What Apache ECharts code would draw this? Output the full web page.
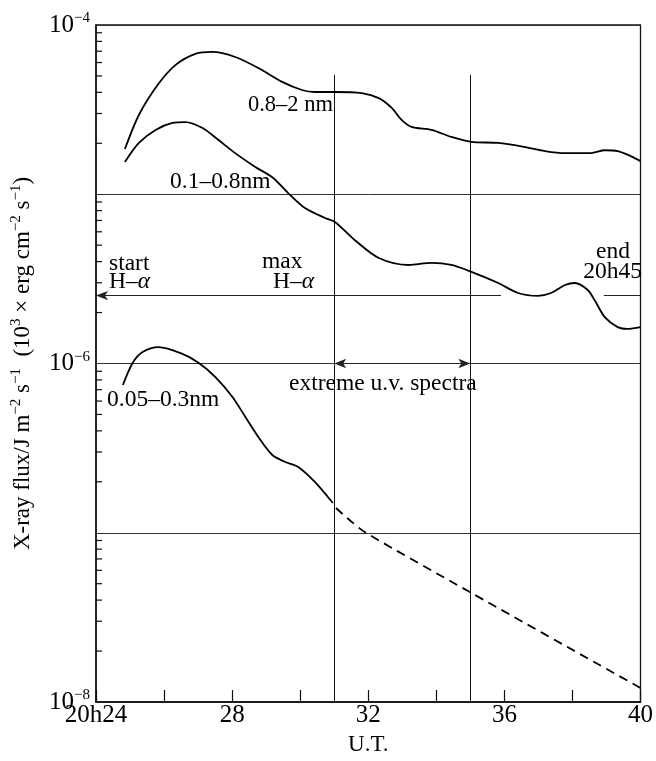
<!DOCTYPE html>
<html>
<head>
<meta charset="utf-8">
<script src="https://cdn.jsdelivr.net/npm/echarts@6/dist/echarts.min.js"></script>
<style>
html,body{margin:0;padding:0;background:#fff;}
#chart{width:656px;height:761px;}
</style>
</head>
<body>
<div id="chart"></div>
<script>
// ---- data (minutes after 20h, flux J m^-2 s^-1) ----
const band08to2 = [
  [24.85,1.85e-5],[25.26,2.94e-5],[25.81,4.42e-5],[26.34,5.81e-5],[26.92,6.75e-5],
  [27.42,6.93e-5],[28.09,6.47e-5],[28.77,5.57e-5],[29.47,4.61e-5],[30.05,4.13e-5],
  [30.43,4.02e-5],[31.02,4.02e-5],[31.81,3.96e-5],[32.31,3.70e-5],[32.69,3.24e-5],
  [32.98,2.75e-5],[33.27,2.50e-5],[33.86,2.40e-5],[34.44,2.18e-5],[35.03,2.04e-5],
  [35.82,2.01e-5],[36.61,1.90e-5],[37.19,1.80e-5],[37.78,1.75e-5],[38.54,1.75e-5],
  [38.95,1.82e-5],[39.33,1.80e-5],[39.71,1.68e-5],[40.0,1.57e-5]
];
const band01to08 = [
  [24.85,1.55e-5],[25.26,2.01e-5],[25.75,2.40e-5],[26.25,2.64e-5],[26.63,2.67e-5],
  [27.13,2.46e-5],[27.60,2.09e-5],[28.09,1.75e-5],[28.68,1.45e-5],[29.18,1.26e-5],
  [29.64,1.02e-5],[30.14,8.29e-6],[30.73,7.24e-6],[31.02,6.86e-6],[31.60,5.37e-6],
  [32.31,4.20e-6],[33.18,3.82e-6],[33.86,3.93e-6],[34.44,3.82e-6],[35.03,3.48e-6],
  [35.82,2.99e-6],[36.40,2.61e-6],[36.99,2.51e-6],[37.37,2.61e-6],[37.78,2.91e-6],
  [38.07,2.99e-6],[38.45,2.72e-6],[38.65,2.37e-6],[38.95,1.88e-6],[39.33,1.64e-6],
  [39.62,1.60e-6],[40.0,1.64e-6]
];
const band005to03 = [
  [24.79,7.46e-7],[25.08,1.01e-6],[25.37,1.17e-6],[25.84,1.25e-6],[26.54,1.14e-6],
  [27.01,1.01e-6],[27.51,8.32e-7],[28.01,6.34e-7],[28.39,4.83e-7],[28.77,3.68e-7],
  [29.18,2.88e-7],[29.56,2.62e-7],[29.94,2.45e-7],[30.43,2.00e-7],[30.96,1.50e-7]
];
const band005to03Extrap = [
  [31.05,1.40e-7],[31.49,1.17e-7],[31.93,1.0e-7],[35.03,4.41e-8],[40.0,1.21e-8]
];
const xTickLabels = {24:'20h24',28:'28',32:'32',36:'36',40:'40'};
const yLabelExponents = [-4,-6,-8];
const minorTickValues = [
  2e-8,3e-8,4e-8,5e-8,6e-8,7e-8,8e-8,9e-8,
  2e-7,3e-7,4e-7,5e-7,6e-7,7e-7,8e-7,9e-7,
  2e-6,3e-6,4e-6,5e-6,6e-6,7e-6,8e-6,9e-6,
  2e-5,3e-5,4e-5,5e-5,6e-5,7e-5,8e-5,9e-5
];
const startHalpha = 2.52e-6;       // level of start H-alpha arrow line
const startHalphaEnds = [24, 35.9, 38.92, 40];
const euvWindow = [31, 35];        // extreme u.v. spectra interval
const euvTop = 5.06e-5;
const euvArrowLevel = 1e-6;

const FONT = '"Liberation Serif", "Times New Roman", serif';
const chart = echarts.init(document.getElementById('chart'), null, {renderer:'canvas'});

const lineBase = {type:'line', showSymbol:false, symbol:'none', smooth:0.3,
  lineStyle:{color:'#000', width:1.8}, animation:false, z:5};

const option = {
  animation:false,
  backgroundColor:'#fff',
  grid:{left:96, right:13, top:25, bottom:59, show:true, borderColor:'#111', borderWidth:1.3, backgroundColor:'transparent'},
  xAxis:{
    type:'value', min:24, max:40, interval:2,
    axisLine:{show:true, lineStyle:{color:'#111', width:1.5}},
    axisTick:{show:true, inside:true, length:12, lineStyle:{color:'#111', width:1.2}},
    axisLabel:{fontFamily:FONT, fontSize:25, color:'#000', margin:1,
      formatter:v => (xTickLabels[v] !== undefined ? xTickLabels[v] : '')},
    splitLine:{show:false},
    name:'U.T.', nameLocation:'middle', nameGap:31,
    nameTextStyle:{fontFamily:FONT, fontSize:23, color:'#000'}
  },
  yAxis:{
    type:'log', logBase:10, min:1e-8, max:1e-4,
    axisLine:{show:true, lineStyle:{color:'#111', width:1.5}},
    axisTick:{show:false},
    axisLabel:{margin:6, color:'#000',
      formatter:v => { const e = Math.round(Math.log10(v)); return yLabelExponents.indexOf(e) >= 0 ? '{b|10}{s|−' + (-e) + '}' : ''; },
      rich:{b:{fontFamily:FONT, fontSize:25, color:'#000'}, s:{fontFamily:FONT, fontSize:15, color:'#000', padding:[0,0,13,0]}}
    },
    splitLine:{show:true, lineStyle:{color:'#333', width:1}},
    name:'{a|X-ray flux/J m}{s|−2}{a| s}{s|−1}{a|  (10}{s|3}{a| × erg cm}{s|−2}{a| s}{s|−1}{a|)}',
    nameLocation:'middle', nameGap:60, nameRotate:90,
    nameTextStyle:{rich:{a:{fontFamily:FONT, fontSize:23, color:'#000'}, s:{fontFamily:FONT, fontSize:15, color:'#000', padding:[0,0,12,0]}}}
  },
  series:[
    Object.assign({}, lineBase, {name:'0.8–2 nm', data:band08to2,
      markLine:{silent:true, symbol:['none','none'], label:{show:false},
        lineStyle:{color:'#111', width:1, type:'solid'},
        data:[
          [{coord:[euvWindow[0],1e-8]},{coord:[euvWindow[0],euvTop]}],
          [{coord:[euvWindow[1],1e-8]},{coord:[euvWindow[1],euvTop]}]
        ]}
    }),
    Object.assign({}, lineBase, {name:'0.1–0.8 nm', data:band01to08,
      markLine:{silent:true, symbol:['arrow','none'], symbolSize:[7,12], label:{show:false},
        lineStyle:{color:'#222', width:1, type:'solid'},
        data:[
          [{coord:[startHalphaEnds[0],startHalpha]},{coord:[startHalphaEnds[1],startHalpha]}],
          [{coord:[startHalphaEnds[2],startHalpha], symbol:'none'},{coord:[startHalphaEnds[3],startHalpha]}]
        ]}
    }),
    Object.assign({}, lineBase, {name:'0.05–0.3 nm', data:band005to03,
      markLine:{silent:true, symbol:['arrow','arrow'], symbolSize:[7,12], label:{show:false},
        lineStyle:{color:'#222', width:1, type:'solid'},
        data:[
          [{coord:[euvWindow[0],euvArrowLevel]},{coord:[euvWindow[1],euvArrowLevel]}]
        ]}
    }),
    Object.assign({}, lineBase, {name:'0.05–0.3 nm (extrapolated)', data:band005to03Extrap,
      lineStyle:{color:'#000', width:1.8, type:[9,6]}}),
    {
      type:'custom', name:'minor ticks', z:6, silent:true,
      data:minorTickValues.map(v => [24, v]),
      renderItem:(params, api) => {
        const p = api.coord([api.value(0), api.value(1)]);
        return {type:'line', shape:{x1:p[0], y1:p[1], x2:p[0]+6, y2:p[1]}, style:{stroke:'#111', lineWidth:1.2}};
      }
    }
  ],
  graphic:[]
};

const FS = 23.5;
const txt = (text, x, y, align, rich, fs) => ({type:'text', x:x, y:y, z:20, silent:true,
  style:{text:text, fontFamily:FONT, fontSize:fs||FS, fill:'#000', align:align||'left', verticalAlign:'middle', rich:rich||{}}});
const alphaRich = {i:{fontFamily:FONT, fontSize:FS, fontStyle:'italic', fill:'#000'}};
option.graphic = [
  txt('0.8–2 nm', 333, 105, 'right', null, 22.5),
  txt('0.1–0.8nm', 170, 182),
  txt('start', 109, 264),
  txt('H–{i|α}', 109, 282, 'left', alphaRich),
  txt('max', 262, 262),
  txt('H–{i|α}', 273, 282, 'left', alphaRich),
  txt('end', 630, 252, 'right'),
  txt('20h45', 642, 272, 'right'),
  txt('0.05–0.3nm', 107, 400),
  txt('extreme u.v. spectra', 289, 384)
];

chart.setOption(option);
</script>
</body>
</html>
